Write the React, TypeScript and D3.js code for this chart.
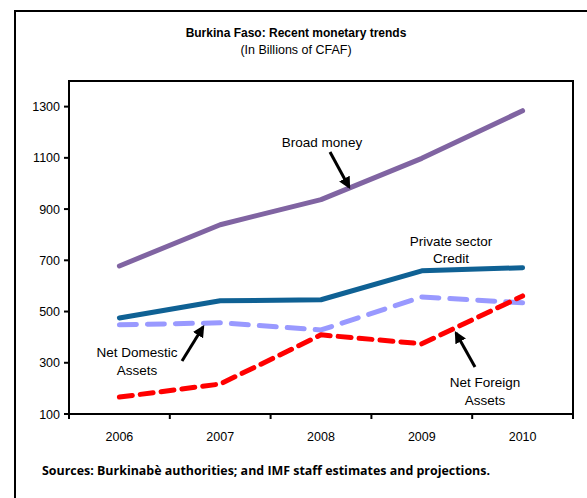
import React from "react";
import * as d3 from "d3";

const years = ["2006", "2007", "2008", "2009", "2010"];
const broadMoney = [678, 839, 937, 1098, 1284];
const privateCredit = [475, 542, 546, 659, 671];
const netDomestic = [448, 456, 428, 557, 534];
const netForeign = [166, 217, 409, 374, 561];
const yTicks = [100, 300, 500, 700, 900, 1100, 1300];

const W = 587;
const H = 498;
const plot = { left: 69, top: 81, right: 573, bottom: 414 };

export default function App() {
  const x = d3.scaleBand<string>().domain(years).range([plot.left, plot.right]);
  const y = d3.scaleLinear().domain([100, 1400]).range([plot.bottom, plot.top]);
  const line = (vals: number[]) =>
    d3.line<number>().x((_, i) => (x(years[i]) as number) + x.bandwidth() / 2).y((v) => y(v))(vals) as string;

  const font = "Arial, 'Liberation Sans', sans-serif";
  const series = [
    { vals: broadMoney, color: "#8064A2", dash: undefined },
    { vals: netDomestic, color: "#9999FF", dash: "17 11" },
    { vals: privateCredit, color: "#0F6194", dash: undefined },
    { vals: netForeign, color: "#FF0000", dash: "13 8" },
  ];
  const arrows = [
    { x1: 330, y1: 152, x2: 349, y2: 187 },
    { x1: 182, y1: 361, x2: 203, y2: 327 },
    { x1: 475, y1: 367, x2: 456, y2: 333 },
  ];
  const xTickPos = years.map((yr) => x(yr) as number).concat([plot.right]);

  return (
    <svg width={W} height={H} style={{ position: "absolute", left: 0, top: 0 }} fontFamily={font}>
      <defs>
        <marker id="ah" viewBox="0 0 10 10" refX="8" refY="5" markerWidth="4" markerHeight="4" orient="auto">
          <path d="M0,0 L10,5 L0,10 z" fill="#000" />
        </marker>
      </defs>
      <rect x={0} y={0} width={W} height={H} fill="#fff" />
      <rect x={15} y={11} width={W} height={H} fill="none" stroke="#000" strokeWidth={2} />
      <text x={296} y={37} textAnchor="middle" fontSize={12} fontWeight="bold">Burkina Faso:  Recent  monetary trends</text>
      <text x={296} y={54} textAnchor="middle" fontSize={12.5}>(In Billions of CFAF)</text>

      <rect x={plot.left} y={plot.top} width={plot.right - plot.left} height={plot.bottom - plot.top} fill="none" stroke="#000" strokeWidth={2} />

      {yTicks.map((t) => (
        <g key={t}>
          <line x1={plot.left - 5} x2={plot.left} y1={y(t)} y2={y(t)} stroke="#000" strokeWidth={2} />
          <text x={60} y={y(t) + 4.5} textAnchor="end" fontSize={12.5}>{t}</text>
        </g>
      ))}
      {xTickPos.map((p, i) => (
        <line key={i} x1={p} x2={p} y1={plot.bottom} y2={plot.bottom + 5} stroke="#000" strokeWidth={2} />
      ))}
      {years.map((yr) => (
        <text key={yr} x={(x(yr) as number) + x.bandwidth() / 2} y={441} textAnchor="middle" fontSize={12.5}>{yr}</text>
      ))}

      {series.map((s, i) => (
        <path key={i} d={line(s.vals)} fill="none" stroke={s.color} strokeWidth={5} strokeDasharray={s.dash} strokeLinecap="round" strokeLinejoin="round" />
      ))}

      {arrows.map((a, i) => (
        <line key={i} x1={a.x1} y1={a.y1} x2={a.x2} y2={a.y2} stroke="#000" strokeWidth={3} markerEnd="url(#ah)" />
      ))}

      <g fontSize={13.5}>
        <text x={322} y={147} textAnchor="middle">Broad money</text>
        <text x={451} y={246} textAnchor="middle">Private sector</text>
        <text x={451} y={263} textAnchor="middle">Credit</text>
        <text x={137} y={357} textAnchor="middle">Net Domestic</text>
        <text x={137} y={375} textAnchor="middle">Assets</text>
        <text x={485} y={387} textAnchor="middle">Net Foreign</text>
        <text x={485} y={405} textAnchor="middle">Assets</text>
      </g>

      <text x={42} y={475} fontSize={12} fontWeight="bold" fontFamily="'Open Sans', sans-serif" textLength={448} lengthAdjust="spacingAndGlyphs">
        Sources: Burkinabè authorities; and IMF staff estimates and projections.
      </text>
    </svg>
  );
}
